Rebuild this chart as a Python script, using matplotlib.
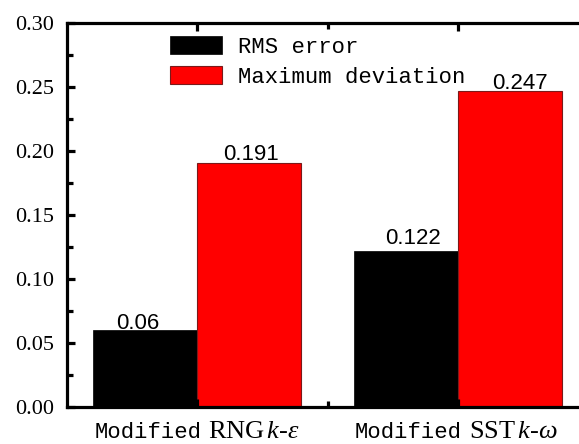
import matplotlib.pyplot as plt
import numpy as np
from matplotlib.ticker import MultipleLocator, FixedLocator
from matplotlib.transforms import blended_transform_factory, offset_copy

plt.rcParams['mathtext.fontset'] = 'custom'
plt.rcParams['mathtext.rm'] = 'Liberation Serif'
plt.rcParams['mathtext.it'] = 'Liberation Serif:italic'

prefix = 'Modified'
models = [r'$\mathrm{RNG}\,k\text{-}\varepsilon$',
          r'$\mathrm{SST}\,k\text{-}\omega$']
rms_error = [0.06, 0.122]
max_dev = [0.191, 0.247]
series_names = ['RMS error', 'Maximum deviation']

# nudges (points) for the value labels
rms_shift = [(-5, 1), (5, 5)]
dev_shift = [(1, 2), (7, 1)]

fig = plt.figure(figsize=(5.79, 4.44), dpi=100)
ax = fig.add_axes([67/579, 37/444, 521/579, 384/444])

x = np.arange(1, len(models)+1)
w = 0.4
b1 = ax.bar(x - w/2, rms_error, w, color='black', edgecolor='black', lw=0.5,
            label=series_names[0])
b2 = ax.bar(x + w/2, max_dev, w, color='#ff0000', edgecolor='#7a1a1a', lw=0.8,
            label=series_names[1])

for bars, vals, sh in [(b1, rms_error, rms_shift), (b2, max_dev, dev_shift)]:
    for r, v, s in zip(bars, vals, sh):
        ax.annotate(str(v), (r.get_x() + r.get_width()/2, v),
                    xytext=s, textcoords='offset points',
                    ha='center', va='baseline', fontsize=16,
                    family='Liberation Sans')

ax.set_xlim(0.5, 2.5)
ax.set_ylim(0, 0.30)
ax.set_xticks(x)
ax.set_xticklabels([])
ax.xaxis.set_minor_locator(FixedLocator([1.5]))
ax.yaxis.set_major_locator(MultipleLocator(0.05))
ax.yaxis.set_minor_locator(MultipleLocator(0.025))
ax.yaxis.set_major_formatter(plt.FormatStrFormatter('%.2f'))
for lab in ax.get_yticklabels():
    lab.set_family('Liberation Serif')
    lab.set_fontsize(16)

# category labels: mono prefix + serif model name
trans = blended_transform_factory(ax.transData, ax.transAxes)
for xi, name in zip(x, models):
    ax.text(xi, 0, prefix, transform=offset_copy(trans, fig, x=3, y=-22.5, units='points'),
            ha='right', va='baseline', family='Liberation Mono', fontsize=16)
    ax.text(xi, 0, name, transform=offset_copy(trans, fig, x=8, y=-22.5, units='points'),
            ha='left', va='baseline', fontsize=19)

for sp in ax.spines.values():
    sp.set_linewidth(2.3)
ax.tick_params(which='both', direction='in', top=True, right=True, width=2.3)
ax.tick_params(which='major', length=6)
ax.tick_params(which='minor', length=4)
ax.tick_params(axis='y', pad=9)

ax.legend(loc='upper left', bbox_to_anchor=(170/579, 1 - 36/444),
          bbox_transform=fig.transFigure, frameon=False, borderpad=0,
          prop={'family': 'Liberation Mono', 'size': 16},
          handlelength=2.35, handleheight=0.85, handletextpad=0.7,
          labelspacing=0.38, borderaxespad=0)

fig.savefig('out.png', dpi=100)
